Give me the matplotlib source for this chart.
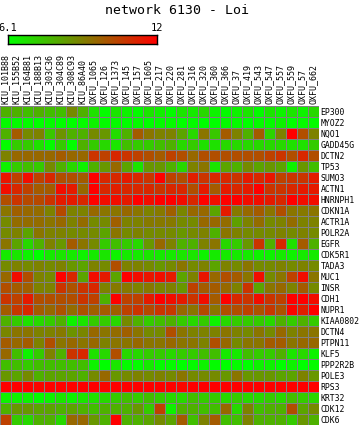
import numpy as np
import matplotlib
matplotlib.use("Agg")
import matplotlib.pyplot as plt
from matplotlib.colors import LinearSegmentedColormap

title = "network 6130 - Loi"
vmin, vmax = 6.1, 12

samples = ["KIU_101B88", "KIU_155B52", "KIU_164B81", "KIU_188B13", "KIU_303C36",
           "KIU_304C89", "KIU_308C93", "KIU_86A40", "OXFU_1065", "OXFU_126",
           "OXFU_1373", "OXFU_145", "OXFU_157", "OXFU_1605", "OXFU_217",
           "OXFU_220", "OXFU_281", "OXFU_316", "OXFU_320", "OXFU_360",
           "OXFU_366", "OXFU_37", "OXFU_419", "OXFU_543", "OXFU_547",
           "OXFU_557", "OXFU_559", "OXFU_57", "OXFU_662"]

genes = ["EP300", "MYOZ2", "NQO1", "GADD45G", "DCTN2", "TP53", "SUMO3", "ACTN1",
         "HNRNPH1", "CDKN1A", "ACTR1A", "POLR2A", "EGFR", "CDK5R1", "TADA3",
         "MUC1", "INSR", "CDH1", "NUPR1", "KIAA0802", "DCTN4", "PTPN11", "KLF5",
         "PPP2R2B", "POLE3", "RPS3", "KRT32", "CDK12", "CDK6"]

# expression per gene, one value per sample (same order as samples)
values = [
    [7.9, 7.9, 7.6, 7.9, 7.6, 7.6, 8.8, 7.9, 6.8, 6.2, 6.7, 6.4, 6.2, 6.7, 6.5, 6.2, 6.7, 6.6, 7.0, 6.4, 6.2, 6.4, 6.7, 6.2, 6.7, 6.4, 6.7, 6.4, 7.0],
    [6.2, 6.2, 6.2, 6.1, 6.2, 6.1, 6.1, 6.2, 6.4, 6.2, 6.2, 6.1, 6.2, 6.1, 6.2, 6.2, 6.1, 6.2, 6.1, 6.1, 6.2, 6.2, 6.1, 6.2, 6.2, 6.4, 6.1, 6.2, 6.2],
    [7.9, 9.9, 8.8, 9.0, 7.4, 8.6, 7.9, 7.9, 8.8, 8.5, 6.9, 7.9, 9.9, 9.3, 9.0, 9.0, 8.2, 7.0, 9.3, 7.4, 9.9, 9.0, 7.9, 9.9, 7.1, 9.0, 12.0, 10.2, 9.0],
    [6.2, 7.3, 7.3, 6.8, 6.2, 7.3, 6.1, 7.9, 7.3, 7.0, 6.7, 7.6, 7.3, 7.3, 7.6, 7.9, 7.0, 7.3, 6.8, 6.8, 7.0, 7.0, 7.0, 7.0, 7.0, 7.0, 6.8, 6.8, 7.3],
    [9.0, 9.6, 9.6, 9.6, 9.6, 9.9, 9.6, 9.6, 10.8, 10.5, 11.1, 10.8, 10.5, 10.2, 9.9, 10.5, 10.2, 9.6, 10.2, 10.2, 10.2, 10.2, 10.2, 10.2, 10.5, 10.8, 10.2, 11.1, 10.2],
    [6.4, 7.3, 7.6, 7.3, 8.8, 7.9, 7.0, 6.4, 7.9, 8.5, 9.6, 8.2, 6.7, 8.5, 8.5, 7.9, 7.0, 9.0, 9.3, 6.7, 8.2, 7.9, 8.8, 8.2, 8.5, 8.2, 6.4, 8.5, 7.6],
    [11.5, 10.5, 11.7, 10.5, 11.1, 10.2, 10.2, 9.9, 12.0, 11.1, 11.1, 11.4, 11.1, 10.8, 12.0, 10.5, 10.2, 11.3, 10.8, 11.1, 11.1, 10.8, 11.4, 11.1, 11.5, 10.5, 10.8, 10.8, 11.4],
    [11.7, 11.1, 10.5, 9.9, 9.9, 11.7, 11.4, 9.6, 12.0, 11.1, 11.3, 11.1, 11.1, 11.1, 10.8, 11.1, 11.1, 10.2, 11.4, 9.9, 11.4, 11.1, 11.4, 12.0, 10.8, 10.8, 11.1, 11.4, 11.4],
    [10.2, 10.8, 10.3, 10.3, 10.8, 11.4, 11.4, 11.1, 12.0, 11.7, 11.7, 11.4, 12.0, 11.7, 12.0, 12.0, 11.7, 11.1, 12.0, 11.7, 12.0, 12.0, 11.7, 11.7, 11.4, 11.1, 12.0, 11.7, 11.7],
    [9.3, 9.8, 9.6, 9.5, 9.0, 10.3, 9.0, 9.0, 9.6, 9.3, 9.3, 9.6, 9.3, 9.0, 9.2, 9.8, 8.9, 9.6, 9.6, 8.2, 11.4, 9.2, 9.6, 9.9, 9.3, 10.2, 9.3, 9.2, 9.3],
    [8.8, 9.5, 9.5, 9.5, 9.3, 9.6, 9.0, 9.5, 8.8, 8.8, 9.8, 9.0, 9.0, 9.2, 9.2, 9.2, 8.8, 8.8, 9.6, 9.6, 9.5, 8.3, 9.0, 9.5, 8.8, 9.0, 9.5, 9.0, 9.0],
    [8.8, 9.0, 8.2, 9.3, 9.0, 9.0, 8.8, 8.8, 8.8, 8.2, 9.3, 8.8, 9.0, 8.8, 8.8, 8.8, 8.5, 8.8, 9.0, 7.9, 9.3, 9.0, 8.8, 8.8, 8.8, 9.0, 8.8, 9.0, 8.8],
    [9.3, 8.2, 7.0, 7.9, 9.0, 8.5, 9.9, 9.3, 8.8, 7.3, 7.6, 7.3, 7.0, 8.5, 9.6, 9.0, 7.9, 7.9, 9.0, 9.3, 7.0, 7.3, 8.5, 10.8, 7.9, 11.1, 6.8, 9.9, 7.9],
    [6.6, 6.7, 6.4, 6.1, 6.6, 6.7, 6.6, 6.4, 6.6, 6.7, 6.4, 6.6, 6.6, 6.7, 6.6, 6.6, 6.7, 6.7, 6.4, 6.6, 6.6, 6.6, 6.6, 6.4, 6.4, 6.6, 6.4, 6.6, 6.6],
    [8.8, 9.0, 8.8, 9.0, 8.8, 9.0, 8.5, 8.2, 9.0, 8.8, 10.2, 9.0, 9.0, 8.8, 8.5, 8.8, 9.3, 8.8, 9.0, 8.2, 9.0, 8.8, 9.3, 8.8, 8.8, 9.0, 8.8, 9.0, 8.8],
    [9.6, 11.7, 10.2, 9.0, 8.8, 12.0, 11.1, 8.2, 11.7, 11.4, 8.2, 12.0, 11.7, 11.5, 11.7, 11.4, 8.2, 9.0, 11.5, 9.6, 10.2, 9.9, 9.3, 11.7, 8.8, 9.3, 10.5, 11.7, 9.3],
    [10.2, 9.9, 9.8, 9.0, 9.0, 10.8, 10.1, 10.8, 11.1, 9.0, 9.2, 9.2, 9.0, 9.2, 8.9, 9.0, 8.5, 10.5, 9.9, 9.9, 9.6, 9.0, 10.8, 8.2, 9.3, 9.6, 9.0, 9.9, 8.8],
    [10.8, 10.5, 11.4, 10.2, 10.2, 10.2, 10.2, 10.8, 10.5, 7.9, 12.0, 10.5, 10.5, 11.4, 12.0, 11.7, 11.4, 10.8, 11.7, 9.9, 12.0, 11.1, 10.8, 11.7, 10.8, 10.5, 12.0, 12.0, 11.7],
    [9.9, 10.7, 11.1, 9.9, 9.6, 10.1, 9.5, 10.1, 9.8, 9.9, 9.8, 10.5, 10.8, 10.3, 10.8, 10.7, 9.6, 9.3, 10.3, 9.3, 10.2, 10.2, 10.5, 10.1, 10.7, 10.1, 11.9, 11.3, 12.0],
    [7.9, 7.3, 6.8, 7.0, 7.3, 7.9, 6.4, 6.7, 7.3, 7.3, 7.0, 8.8, 7.9, 7.3, 7.6, 7.9, 7.3, 7.0, 7.3, 6.4, 7.0, 7.3, 7.3, 7.3, 7.0, 7.9, 7.3, 7.9, 7.3],
    [8.9, 9.3, 9.3, 9.0, 9.0, 9.2, 8.6, 8.9, 9.6, 9.3, 9.5, 9.8, 9.3, 8.8, 8.8, 10.2, 9.3, 9.0, 9.0, 9.0, 9.3, 9.0, 8.8, 9.3, 8.8, 9.6, 9.0, 9.3, 9.3],
    [9.9, 9.6, 9.9, 9.0, 10.2, 9.3, 9.6, 9.3, 9.6, 9.0, 9.3, 9.3, 9.6, 9.3, 9.3, 9.6, 9.3, 9.3, 9.0, 10.2, 9.6, 8.8, 9.3, 9.3, 9.9, 9.9, 9.3, 9.6, 9.6],
    [9.6, 7.6, 6.4, 7.3, 9.0, 7.9, 10.8, 11.1, 6.8, 7.0, 10.2, 7.0, 7.0, 7.3, 7.3, 7.0, 7.3, 7.3, 7.6, 7.6, 6.6, 6.6, 7.6, 7.3, 7.3, 7.9, 6.7, 7.0, 6.4],
    [7.6, 7.6, 7.3, 7.6, 7.6, 7.6, 7.6, 7.6, 6.4, 6.1, 6.7, 6.2, 6.2, 6.6, 6.2, 6.2, 6.1, 6.2, 6.4, 6.2, 6.1, 6.2, 6.1, 6.4, 6.4, 6.1, 6.4, 6.1, 6.2],
    [8.5, 8.2, 8.8, 7.9, 8.2, 8.2, 8.2, 7.9, 8.8, 9.6, 8.5, 8.8, 9.0, 8.8, 9.0, 8.8, 9.3, 8.8, 8.8, 8.8, 8.5, 9.3, 8.5, 8.5, 8.5, 8.2, 8.2, 9.0, 8.5],
    [12.0, 12.0, 12.0, 11.9, 12.0, 12.0, 12.0, 12.0, 12.0, 11.9, 12.0, 12.0, 12.0, 12.0, 12.0, 12.0, 11.9, 12.0, 12.0, 12.0, 12.0, 12.0, 12.0, 12.0, 12.0, 12.0, 12.0, 12.0, 12.0],
    [6.4, 6.4, 6.4, 6.2, 6.4, 6.7, 6.4, 6.7, 6.8, 7.0, 7.3, 7.6, 7.3, 7.6, 7.3, 7.0, 7.0, 7.6, 7.3, 7.3, 7.0, 7.3, 7.0, 7.0, 7.3, 7.0, 7.6, 7.3, 7.0],
    [7.9, 8.5, 8.5, 8.2, 8.2, 7.9, 8.2, 7.9, 7.6, 7.9, 7.9, 7.9, 8.5, 7.3, 10.5, 6.4, 7.9, 7.9, 7.6, 7.6, 9.6, 7.0, 9.0, 7.6, 7.9, 7.9, 10.2, 8.2, 8.8],
    [10.5, 7.3, 7.0, 7.9, 7.9, 7.0, 9.6, 9.6, 8.5, 7.9, 12.0, 7.9, 7.9, 8.2, 8.8, 8.2, 9.9, 7.6, 9.0, 9.9, 7.6, 7.6, 9.0, 7.9, 7.9, 7.9, 7.3, 8.5, 7.9],
]

W, H = 361, 425
cmap = LinearSegmentedColormap.from_list("gr", ["#00ff00", "#ff0000"])
mono = "DejaVu Sans Mono"

fig = plt.figure(figsize=(W / 100, H / 100), dpi=100)

# heat map, 11 px per cell, 1 px grey grid
ax = fig.add_axes([0 / W, 0 / H, 319 / W, 319 / H])
data = np.array(values)
ax.pcolormesh(data, cmap=cmap, vmin=vmin, vmax=vmax, antialiased=False)
nr, nc = data.shape
ax.vlines(np.arange(nc + 1), 0, nr, color="#808080", linewidth=0.72)
ax.hlines(np.arange(nr + 1), 0, nc, color="#808080", linewidth=0.72)
ax.set_xlim(0, nc)
ax.set_ylim(nr, 0)
for s in ax.spines.values():
    s.set_visible(False)
ax.xaxis.tick_top()
ax.yaxis.tick_right()
ax.set_xticks(np.arange(nc) + 0.5)
ax.set_xticklabels(samples, rotation=90, family=mono, fontsize=6)
ax.set_yticks(np.arange(nr) + 0.5)
ax.set_yticklabels(genes, family=mono, fontsize=5.9)
ax.tick_params(length=0, pad=1.2)

# colour bar
cax = fig.add_axes([8 / W, (H - 44) / H, 149 / W, 9 / H])
cax.imshow(np.linspace(vmin, vmax, 256)[None, :], aspect="auto", cmap=cmap,
           vmin=vmin, vmax=vmax, extent=[vmin, vmax, 0, 1])
cax.set_xticks([])
cax.set_yticks([])
for s in cax.spines.values():
    s.set_linewidth(1.0)
    s.set_color("black")
cax.text(0, 1.2, "6.1", transform=cax.transAxes, ha="center", va="bottom",
         family=mono, fontsize=7.5)
cax.text(1, 1.2, "12", transform=cax.transAxes, ha="center", va="bottom",
         family=mono, fontsize=7.5)

fig.text(177 / W, 1 - 11 / H, title, ha="center", va="center",
         family=mono, fontsize=9.5)

fig.savefig("out.png", dpi=100)
